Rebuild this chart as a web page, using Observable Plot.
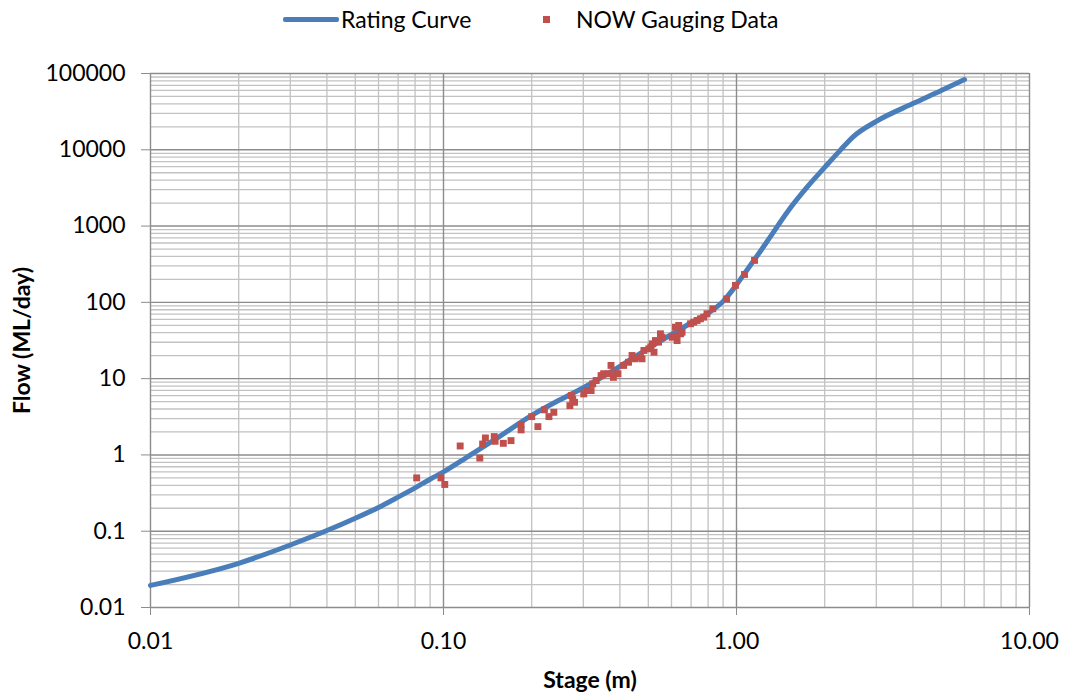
<!DOCTYPE html>
<html>
<head>
<meta charset="utf-8">
<script src="https://cdn.jsdelivr.net/npm/d3@7"></script>
<script src="https://cdn.jsdelivr.net/npm/@observablehq/plot@0.6"></script>
<style>
  body { margin: 0; background: #fff; font-family: Lato, "Open Sans", sans-serif; }
  #legend { position: relative; height: 40px; font-size: 23px; color: #000; }
  #legend .item { position: absolute; top: 5px; line-height: 28px; white-space: nowrap; }
  #legend .swatch-line { position: absolute; left: 283px; top: 17px; width: 56px; height: 5px; background: #4A7EBB; border-radius: 2px; }
  #legend .swatch-sq { position: absolute; left: 543px; top: 16px; width: 7px; height: 7px; background: #C0504D; }
</style>
</head>
<body>
<div id="legend">
  <div class="swatch-line"></div>
  <div class="item" style="left:341px">Rating Curve</div>
  <div class="swatch-sq"></div>
  <div class="item" style="left:576px">NOW Gauging Data</div>
</div>
<div id="chart"></div>
<script>
// Rating curve: stage (m) vs flow (ML/day)
const curveStage = [0.01, 0.02, 0.03, 0.04, 0.05, 0.06, 0.07, 0.08, 0.09, 0.10,
  0.12, 0.15, 0.20, 0.25, 0.30, 0.40, 0.50, 0.60, 0.70, 0.80, 0.90, 1.00,
  1.10, 1.20, 1.30, 1.50, 1.75, 2.00, 2.25, 2.50, 3.00, 4.00, 5.00, 6.00];
const curveFlow = [0.0195, 0.038, 0.066, 0.102, 0.148, 0.205, 0.28, 0.37, 0.48, 0.60,
  0.93, 1.6, 3.3, 5.3, 7.6, 14.5, 25, 38, 54, 72, 103, 170,
  284, 454, 711, 1580, 3310, 5880, 9680, 14800, 23600, 40300, 59800, 83200];

// NOW gauging measurements
const gaugeStage = [0.081, 0.098, 0.101, 0.114, 0.133, 0.136, 0.139, 0.149, 0.150, 0.160,
  0.170, 0.184, 0.184, 0.200, 0.210, 0.221, 0.229, 0.238, 0.273, 0.280,
  0.270, 0.276, 0.301, 0.309, 0.319, 0.323, 0.332, 0.345, 0.352, 0.366,
  0.380, 0.394, 0.373, 0.387, 0.412, 0.428, 0.450, 0.440, 0.470, 0.476,
  0.483, 0.502, 0.510, 0.523, 0.516, 0.529, 0.550, 0.557, 0.542, 0.603,
  0.619, 0.635, 0.652, 0.627, 0.644, 0.619, 0.697, 0.715, 0.734, 0.753,
  0.773, 0.793, 0.830, 0.925, 0.992, 1.065, 1.152];
const gaugeFlow = [0.50, 0.50, 0.41, 1.31, 0.91, 1.39, 1.67, 1.74, 1.51, 1.42,
  1.54, 2.50, 2.13, 3.18, 2.35, 3.90, 3.18, 3.62, 6.0, 4.9,
  4.43, 5.4, 6.3, 6.98, 6.98, 8.55, 9.45, 10.97, 11.6, 11.6,
  10.4, 11.6, 14.9, 11.6, 14.9, 16.4, 18.2, 20.1, 19.1, 18.2,
  23.4, 24.6, 26, 22.2, 28.6, 31.6, 38.7, 34.9, 30.1, 34.9,
  47.3, 49.8, 40.6, 31.6, 38.7, 36, 52.4, 55, 57.9, 60.9,
  64, 70.8, 82.4, 111, 167, 232, 355];

// Axis ticks and labels
const xTicks = [0.01, 0.1, 1, 10];
const xLabels = ["0.01", "0.10", "1.00", "10.00"];
const yTicks = [0.01, 0.1, 1, 10, 100, 1000, 10000, 100000];
const yLabels = ["0.01", "0.1", "1", "10", "100", "1000", "10000", "100000"];

const curve = curveStage.map((s, i) => ({stage: s, flow: curveFlow[i]}));
const gauging = gaugeStage.map((s, i) => ({stage: s, flow: gaugeFlow[i]}));

// minor log grid: 2..9 within each decade
const minorOf = (ticks) => ticks.slice(0, -1).flatMap(t => d3.range(2, 10).map(k => +(t * k).toPrecision(6)));
const xMinor = minorOf(xTicks);
const yMinor = minorOf(yTicks);

const xLabelOf = new Map(xTicks.map((t, i) => [t, xLabels[i]]));
const yLabelOf = new Map(yTicks.map((t, i) => [t, yLabels[i]]));

const chart = Plot.plot({
  width: 1065,
  height: 656,
  marginTop: 33,
  marginBottom: 89,
  marginLeft: 150,
  marginRight: 36,
  x: {type: "log", domain: [0.01, 10]},
  y: {type: "log", domain: [0.01, 100000]},
  style: {fontFamily: "Lato, 'Open Sans', sans-serif", fontSize: "23px", color: "#000", background: "#fff"},
  marks: [
    Plot.ruleX(xMinor, {stroke: "#c2c2c2", strokeWidth: 1.3}),
    Plot.ruleY(yMinor, {stroke: "#c2c2c2", strokeWidth: 1.3}),
    Plot.ruleX(xTicks, {stroke: "#8c8c8c", strokeWidth: 1.4}),
    Plot.ruleY(yTicks, {stroke: "#8c8c8c", strokeWidth: 1.4}),
    Plot.axisX({ticks: xTicks, tickFormat: d => xLabelOf.get(d), tickSize: 8, tickPadding: 17,
      stroke: "#8c8c8c", label: null, fontSize: 23}),
    Plot.axisY({ticks: yTicks, tickFormat: d => yLabelOf.get(d), tickSize: 9, tickPadding: 16,
      stroke: "#8c8c8c", label: null, fontSize: 23}),
    Plot.line(curve, {x: "stage", y: "flow", stroke: "#4A7EBB", strokeWidth: 5, curve: "monotone-x"}),
    Plot.dot(gauging, {x: "stage", y: "flow", symbol: "square", r: 3.9, fill: "#C0504D", stroke: "none"}),
    Plot.text(["Stage (m)"], {frameAnchor: "bottom", textAnchor: "middle", lineAnchor: "middle", dy: 73,
      fontWeight: "bold", fontSize: 23}),
    Plot.text(["Flow (ML/day)"], {frameAnchor: "left", textAnchor: "middle", lineAnchor: "middle",
      rotate: -90, dx: -128, fontWeight: "bold", fontSize: 23})
  ]
});
document.getElementById("chart").appendChild(chart);
</script>
</body>
</html>
